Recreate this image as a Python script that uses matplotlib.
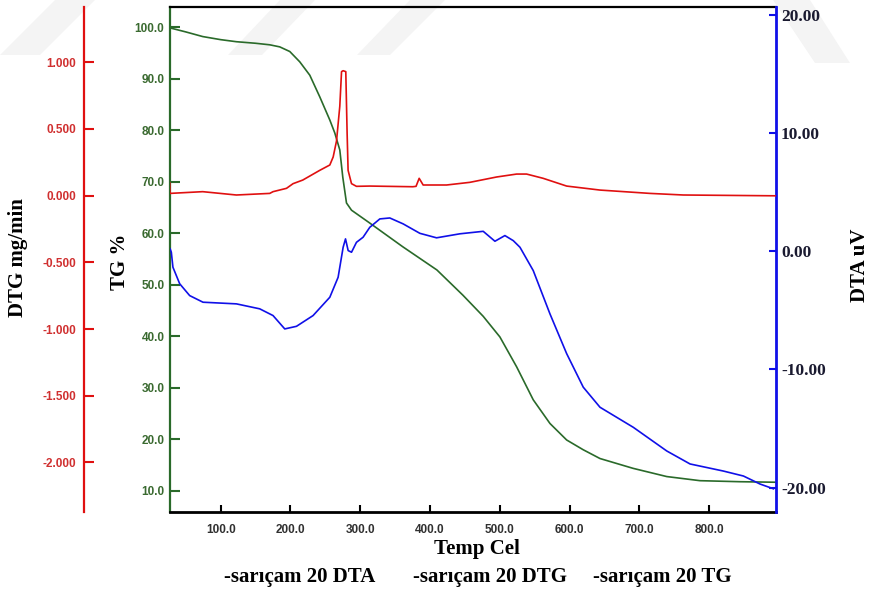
import matplotlib
matplotlib.use("Agg")
import matplotlib.pyplot as plt
from matplotlib.patches import Polygon

# ---------------- data ----------------
tg_temp = [26.8, 50.0, 74.2, 100.0, 122.5, 150.0, 170.3, 184.6, 199.0, 213.3,
           227.7, 242.0, 256.4, 263.5, 270.7, 275.0, 280.3, 287.5, 313.7, 361.0,
           409.9, 447.2, 476.3, 500.2, 524.2, 548.0, 572.0, 595.9, 619.7, 643.7,
           691.0, 739.4, 787.1, 844.5, 894.7]
tg_vals = [99.9, 99.1, 98.2, 97.6, 97.2, 96.9, 96.6, 96.2, 95.3, 93.3,
           90.7, 86.5, 82.0, 79.5, 76.2, 70.9, 65.9, 64.5, 62.0, 57.4,
           52.9, 48.0, 43.9, 39.9, 34.1, 27.7, 23.1, 19.9, 18.0, 16.3,
           14.4, 12.8, 12.0, 11.8, 11.7]

dtg_temp = [26.9, 27.2, 74.2, 122.5, 170.3, 175.0, 194.3, 203.7, 217.6, 242.0,
            256.4, 261.2, 266.0, 270.7, 273.2, 275.5, 279.3, 281.2, 282.6, 287.5,
            294.6, 313.7, 375.4, 380.0, 384.5, 390.2, 423.8, 457.2, 495.5, 524.2,
            538.5, 562.3, 595.9, 643.7, 715.4, 763.2, 894.7]
dtg_vals = [0.095, 0.017, 0.030, 0.005, 0.017, 0.030, 0.055, 0.090, 0.117, 0.190,
            0.230, 0.290, 0.410, 0.670, 0.930, 0.937, 0.930, 0.470, 0.190, 0.090,
            0.070, 0.072, 0.067, 0.070, 0.130, 0.080, 0.080, 0.100, 0.140, 0.162,
            0.162, 0.130, 0.072, 0.042, 0.017, 0.005, -0.001]

dta_temp = [27.5, 29.2, 31.5, 41.2, 55.5, 74.6, 122.5, 155.9, 175.0, 191.8,
            208.6, 232.4, 256.4, 268.3, 275.5, 278.9, 282.7, 287.5, 294.6, 304.1,
            313.7, 328.1, 342.4, 361.5, 385.5, 409.4, 442.9, 476.3, 493.1, 507.4,
            519.4, 529.0, 548.0, 572.0, 595.9, 619.7, 643.7, 691.5, 739.4, 772.8,
            820.6, 849.3, 873.2, 892.3]
dta_vals = [0.2, -0.08, -1.35, -2.75, -3.75, -4.31, -4.45, -4.87, -5.44, -6.57,
            -6.35, -5.44, -3.89, -2.20, 0.34, 1.05, 0.06, -0.08, 0.76, 1.19,
            2.03, 2.74, 2.82, 2.32, 1.52, 1.14, 1.48, 1.69, 0.85, 1.33,
            0.90, 0.34, -1.63, -5.30, -8.66, -11.5, -13.2, -14.9, -16.9, -18.0,
            -18.6, -19.02, -19.7, -20.1]

x_ticks = [100, 200, 300, 400, 500, 600, 700, 800]
tg_ticks = [10, 20, 30, 40, 50, 60, 70, 80, 90, 100]
dtg_ticks = [1.0, 0.5, 0.0, -0.5, -1.0, -1.5, -2.0]
dta_ticks = [20, 10, 0, -10, -20]
legend_labels = ["-sarıçam 20 DTA", "-sarıçam 20 DTG", "-sarıçam 20 TG"]

# ---------------- styling ----------------
RED = "#e01010"
GREEN = "#2a6a2a"
BLUE = "#1010e8"
RED_TXT = "#d03030"
GREEN_TXT = "#3a6a30"
SERIF = ["Liberation Serif", "DejaVu Serif"]
SANS = ["Liberation Sans", "DejaVu Sans"]

fig = plt.figure(figsize=(8.72, 5.92), dpi=100)

# very faint watermark stripes (behind everything)
H = 592.0
def px(x, y):
    return (x / 872.0, 1 - y / H)
stripes = [
    [(0, 55), (40, 55), (95, 0), (55, 0)],
    [(228, 55), (262, 55), (315, 0), (280, 0)],
    [(357, 55), (390, 55), (445, 0), (410, 0)],
    [(773, 0), (810, 0), (850, 63), (815, 63)],
]
for st in stripes:
    fig.patches.append(Polygon([px(*p) for p in st], closed=True,
                               transform=fig.transFigure, facecolor="#f4f4f4",
                               edgecolor="none", zorder=-10))

L, R, B, T = 170/872, 775.5/872, 1 - 511.7/592, 1 - 7.3/592
ax = fig.add_axes([L, B, R - L, T - B])
ax.patch.set_alpha(0)
ax_dta = ax.twinx()
ax_dtg = ax.twinx()

# TG (main axis)
ax.plot(tg_temp, tg_vals, color=GREEN, lw=1.2, zorder=3)
ax.set_xlim(27.3, 895.3)
ax.set_ylim(5.98, 103.88)
ax.set_xticks(x_ticks)
ax.set_xticklabels([f"{v:.1f}" for v in x_ticks], fontsize=8.5, fontweight="bold",
                   family=SANS, color="#303030")
ax.set_yticks(tg_ticks)
ax.set_yticklabels([f"{v:.1f}" for v in tg_ticks], fontsize=8.5, fontweight="bold",
                   family=SANS, color=GREEN_TXT)
ax.tick_params(axis="x", direction="in", length=5, width=1.5, color="black", pad=9)
ax.tick_params(axis="y", direction="in", length=7, width=1.5, color=GREEN, pad=4)
ax.spines["left"].set_color(GREEN)
ax.spines["left"].set_linewidth(1.6)
ax.spines["bottom"].set_color("black")
ax.spines["bottom"].set_linewidth(2.0)
ax.spines["top"].set_color("black")
ax.spines["top"].set_linewidth(1.6)
ax.spines["right"].set_visible(False)

# DTA (right axis)
ax_dta.plot(dta_temp, dta_vals, color=BLUE, lw=1.2, zorder=3)
ax_dta.set_ylim(-22.04, 20.65)
ax_dta.set_yticks(dta_ticks)
ax_dta.set_yticklabels([f"{v:.2f}" for v in dta_ticks], fontsize=12.5, fontweight="bold",
                       family=SERIF, color="#1a1a30")
ax_dta.tick_params(axis="y", direction="in", length=5, width=1.5, color=BLUE, pad=4)
ax_dta.spines["right"].set_color(BLUE)
ax_dta.spines["right"].set_linewidth(2.0)
for s in ["left", "top", "bottom"]:
    ax_dta.spines[s].set_visible(False)

# DTG (offset left axis)
ax_dtg.plot(dtg_temp, dtg_vals, color=RED, lw=1.2, zorder=3)
ax_dtg.set_ylim(-2.3698, 1.4125)
ax_dtg.yaxis.set_ticks_position("left")
ax_dtg.yaxis.set_label_position("left")
ax_dtg.spines["left"].set_position(("axes", (84.3 - 170) / 605.5))
ax_dtg.spines["left"].set_visible(True)
ax_dtg.spines["left"].set_color(RED)
ax_dtg.spines["left"].set_linewidth(1.6)
for s in ["right", "top", "bottom"]:
    ax_dtg.spines[s].set_visible(False)
ax_dtg.set_yticks(dtg_ticks)
ax_dtg.set_yticklabels([f"{v:.3f}" for v in dtg_ticks], fontsize=8.5, fontweight="bold",
                       family=SANS, color=RED_TXT)
ax_dtg.tick_params(axis="y", direction="in", length=7, width=1.5, color=RED, pad=6)

# axis titles
fig.text(18/872, 1 - 258/592, "DTG mg/min", rotation=90, ha="center", va="center",
         fontsize=15, fontweight="bold", family=SERIF)
fig.text(120/872, 1 - 262/592, "TG %", rotation=90, ha="center", va="center",
         fontsize=15, fontweight="bold", family=SERIF)
fig.text(860/872, 1 - 265/592, "DTA uV", rotation=90, ha="center", va="center",
         fontsize=15, fontweight="bold", family=SERIF)
fig.text(477/872, 1 - 549/592, "Temp Cel", ha="center", va="center",
         fontsize=15, fontweight="bold", family=SERIF)
for xc, lab in zip([300, 490, 662], legend_labels):
    fig.text(xc/872, 1 - 577/592, lab, ha="center", va="center",
             fontsize=15, fontweight="bold", family=SERIF)

fig.savefig("out.png", dpi=100)
